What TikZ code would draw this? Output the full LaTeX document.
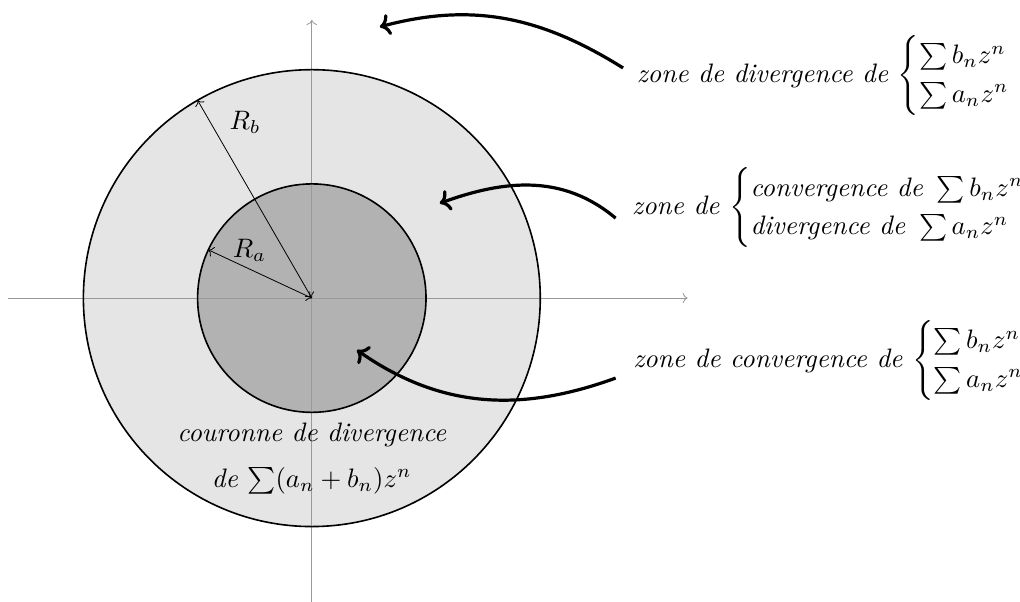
\documentclass[tikz,border=0pt]{standalone}
\usepackage{amsmath}
\usetikzlibrary{arrows.meta}
\begin{document}
\begin{tikzpicture}[
  axis/.style={gray!80,->},
  radius line/.style={<->},
  label/.style={font=\itshape, inner sep=0pt, scale=1.33, transform shape},
  rlabel/.style={scale=1.33, transform shape},
  bigarrow/.style={->, ultra thick}
]
\useasboundingbox (-5.46,-5.31) rectangle (12.4,5.22);
\fill[gray!20] (0,0) circle (4);
\fill[gray!60] (0,0) circle (2);
\coordinate (O) at (0,0);
\draw[axis] (-5.32,0) -- (6.58,0);
\draw[axis] (0,-5.4) -- (0,4.87);
\draw[thick] (0,0) circle (4);
\draw[thick] (0,0) circle (2);
\coordinate (B) at (120:4);
\coordinate (A) at (155:2);
\draw[radius line] (O) -- (B);
\draw[radius line] (O) -- (A);
\node[rlabel] (Rb) at (-1.17,3.08) {$R_b$};
\node[rlabel] (Ra) at (-1.09,0.84) {$R_a$};
\node[label] (c1) at (0,-2.4) {couronne de divergence};
\node[label] (c2) at (0,-3.2) {de $\sum(a_n+b_n)z^n$};
\node[label, anchor=west] (n1) at (5.68,3.9) {zone de divergence de $\begin{cases}\sum b_nz^n\\ \sum a_nz^n\end{cases}$};
\node[label, anchor=west] (n2) at (5.6,1.58) {zone de $\begin{cases}\text{convergence de}\ \sum b_nz^n\\ \text{divergence de}\ \sum a_nz^n\end{cases}$\hspace{-0.15em}};
\node[label, anchor=west] (n3) at (5.62,-1.09) {zone de convergence de $\begin{cases}\sum b_nz^n\\ \sum a_nz^n\end{cases}$};
\coordinate (e1) at (1.19,4.75);
\coordinate (e2) at (2.24,1.66);
\coordinate (e3) at (0.79,-0.91);
\draw[bigarrow] ([xshift=-0.23cm,yshift=0.13cm]n1.west) to[out=148,in=15] (e1);
\draw[bigarrow] ([xshift=-0.28cm,yshift=-0.18cm]n2.west) to[out=140,in=20] (e2);
\draw[bigarrow] ([xshift=-0.3cm,yshift=-0.31cm]n3.west) to[out=200,in=-35] (e3);
\end{tikzpicture}
\end{document}
